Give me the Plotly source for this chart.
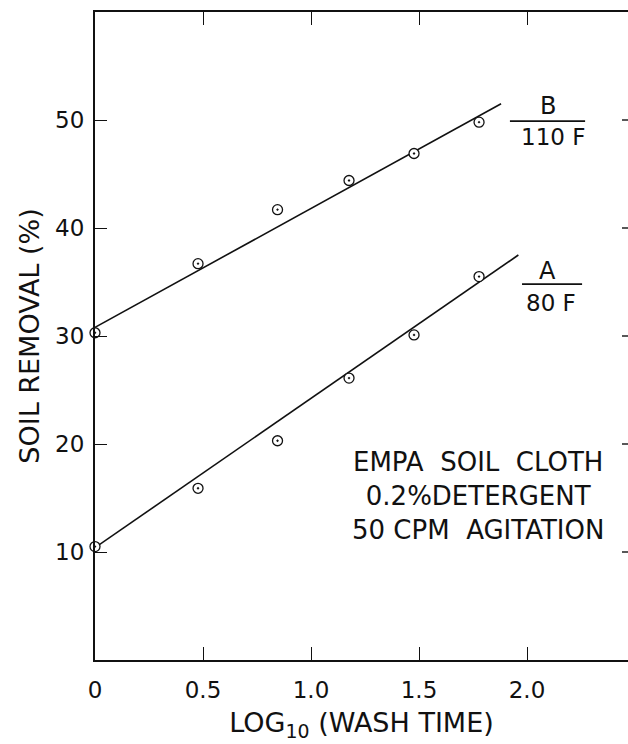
import plotly.graph_objects as go

# Data
log_time = [0.0, 0.477, 0.845, 1.176, 1.477, 1.778]
removal_A_80F = [10.5, 15.9, 20.3, 26.1, 30.1, 35.5]
removal_B_110F = [30.3, 36.7, 41.7, 44.4, 46.9, 49.8]

fit_x_A = [0.0, 1.96]
fit_y_A = [10.4, 37.5]
fit_x_B = [0.0, 1.88]
fit_y_B = [30.8, 51.5]

x_tickvals = [0, 0.5, 1.0, 1.5, 2.0]
x_ticktext = ["0", "0.5", "1.0", "1.5", "2.0"]
y_tickvals = [10, 20, 30, 40, 50]
y_ticktext = ["10", "20", "30", "40", "50"]

conditions = ["EMPA  SOIL  CLOTH", "0.2%DETERGENT", "50 CPM  AGITATION"]

FONT = "DejaVu Sans"
INK = "#111111"

fig = go.Figure()
for fx, fy in [(fit_x_A, fit_y_A), (fit_x_B, fit_y_B)]:
    fig.add_trace(go.Scatter(x=fx, y=fy, mode="lines",
                             line=dict(color=INK, width=1.6),
                             showlegend=False, hoverinfo="skip"))
for yy in [removal_A_80F, removal_B_110F]:
    fig.add_trace(go.Scatter(x=log_time, y=yy, mode="markers",
                             marker=dict(symbol="circle-dot", size=10, color="white",
                                         line=dict(color=INK, width=1.3)),
                             showlegend=False, cliponaxis=False))

# Curve labels as fractions
fig.add_annotation(x=2.095, y=51.3, text="B", showarrow=False,
                   font=dict(family=FONT, size=24, color=INK))
fig.add_annotation(x=2.12, y=48.4, text="110 F", showarrow=False,
                   font=dict(family=FONT, size=23, color=INK))
fig.add_shape(type="line", x0=1.921, x1=2.269, y0=49.9, y1=49.9,
              line=dict(color=INK, width=1.6))
fig.add_annotation(x=2.097, y=36.0, text="A", showarrow=False,
                   font=dict(family=FONT, size=24, color=INK))
fig.add_annotation(x=2.11, y=33.1, text="80 F", showarrow=False,
                   font=dict(family=FONT, size=23, color=INK))
fig.add_shape(type="line", x0=1.977, x1=2.255, y0=34.8, y1=34.8,
              line=dict(color=INK, width=1.6))

# Conditions text
fig.add_annotation(x=1.775, y=15.2, text="<br>".join(conditions), showarrow=False,
                   align="center",
                   font=dict(family=FONT, size=26, color=INK))

# small right-frame ticks visible at the page edge
for v in y_tickvals:
    fig.add_shape(type="line", xref="paper", x0=1 - 6 / 533, x1=1, yref="y", y0=v, y1=v,
                  line=dict(color=INK, width=1.4))

fig.update_xaxes(range=[0, 2.4676], tickvals=x_tickvals, ticktext=x_ticktext,
                 ticks="inside", ticklen=13, tickwidth=1.4, tickcolor=INK,
                 showline=True, linecolor=INK, linewidth=2, mirror="ticks",
                 showgrid=False, zeroline=False,
                 tickfont=dict(family=FONT, size=23, color=INK),
                 ticklabelstandoff=8,
                 title=dict(text="LOG<sub>10</sub> (WASH TIME)", standoff=12,
                            font=dict(family=FONT, size=27, color=INK)))
fig.update_yaxes(range=[0, 60], tickvals=y_tickvals, ticktext=y_ticktext,
                 ticks="inside", ticklen=12, tickwidth=1.4, tickcolor=INK,
                 showline=True, linecolor=INK, linewidth=2, mirror=False,
                 showgrid=False, zeroline=False,
                 tickfont=dict(family=FONT, size=23, color=INK),
                 ticklabelstandoff=4,
                 title=dict(text="SOIL REMOVAL (%)", standoff=8,
                            font=dict(family=FONT, size=27, color=INK)))

fig.update_layout(width=628, height=744,
                  margin=dict(l=95, r=0, t=12, b=84),
                  plot_bgcolor="white", paper_bgcolor="white")

fig.write_html("out.html")
